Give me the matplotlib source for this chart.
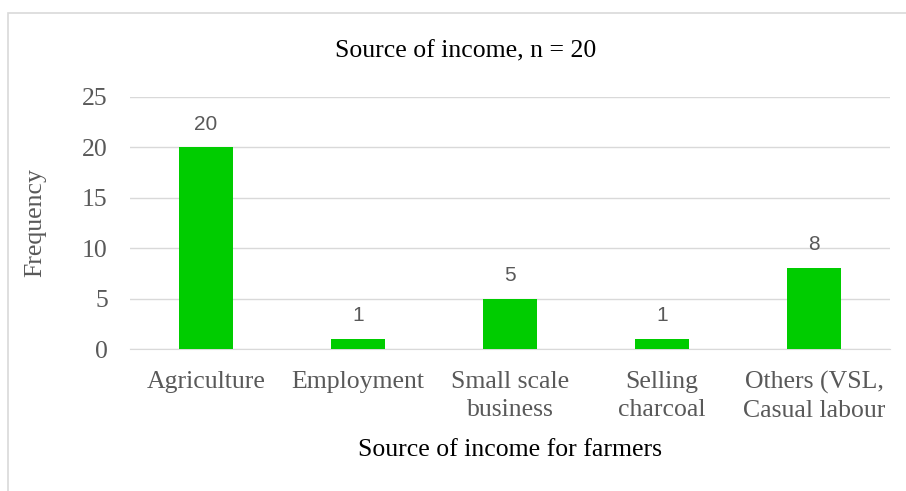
import matplotlib
matplotlib.use("Agg")
import matplotlib.pyplot as plt
from matplotlib.patches import Rectangle

categories = ["Agriculture", "Employment", "Small scale\nbusiness", "Selling\ncharcoal", "Others (VSL,\nCasual labour"]
values = [20, 1, 5, 1, 8]
yticks = [0, 5, 10, 15, 20, 25]

serif = "Liberation Serif"
sans = "Liberation Sans"
gray = "#595959"

fig = plt.figure(figsize=(9.06, 4.91), dpi=100)
fig.patches.append(Rectangle((8/906, -0.1), 1.2, (1 - 13/491) + 0.1, transform=fig.transFigure,
                             fill=False, edgecolor="#D9D9D9", linewidth=1.2))
ax = fig.add_axes([130/906, 1 - 349/491, 760/906, 252/491])
x = list(range(len(categories)))
bars = ax.bar(x, values, width=0.355, color="#00CC00", zorder=3)
ax.set_xlim(-0.5, len(categories) - 0.5)
ax.set_ylim(0, 25)
ax.set_yticks(yticks)
ax.set_yticklabels([str(t) for t in yticks], fontfamily=serif, fontsize=18.5, color=gray)
ax.set_xticks(x)
ax.set_xticklabels(categories, fontfamily=serif, fontsize=18.5, color=gray, linespacing=1.36)
ax.tick_params(axis="both", length=0)
ax.tick_params(axis="y", pad=16)
ax.tick_params(axis="x", pad=16)
ax.grid(axis="y", color="#D9D9D9", linewidth=1, zorder=0)
for s in ["top", "right", "left"]:
    ax.spines[s].set_visible(False)
ax.spines["bottom"].set_color("#D9D9D9")
for xi, v in zip(x, values):
    ax.annotate(str(v), (xi, v), xytext=(0, 10), textcoords="offset points",
                ha="center", va="bottom", fontfamily=sans, fontsize=15, color=gray)
ax.set_ylabel("Frequency", fontfamily=serif, fontsize=18.5, color=gray, labelpad=26)
ax.set_xlabel("Source of income for farmers", fontfamily=serif, fontsize=18.5, color="black", labelpad=12)
fig.text(466/906, 1 - 51/491, "Source of income, n = 20", ha="center", va="center",
         fontfamily=serif, fontsize=18.5, color="black")
fig.savefig("out.png", dpi=100)
